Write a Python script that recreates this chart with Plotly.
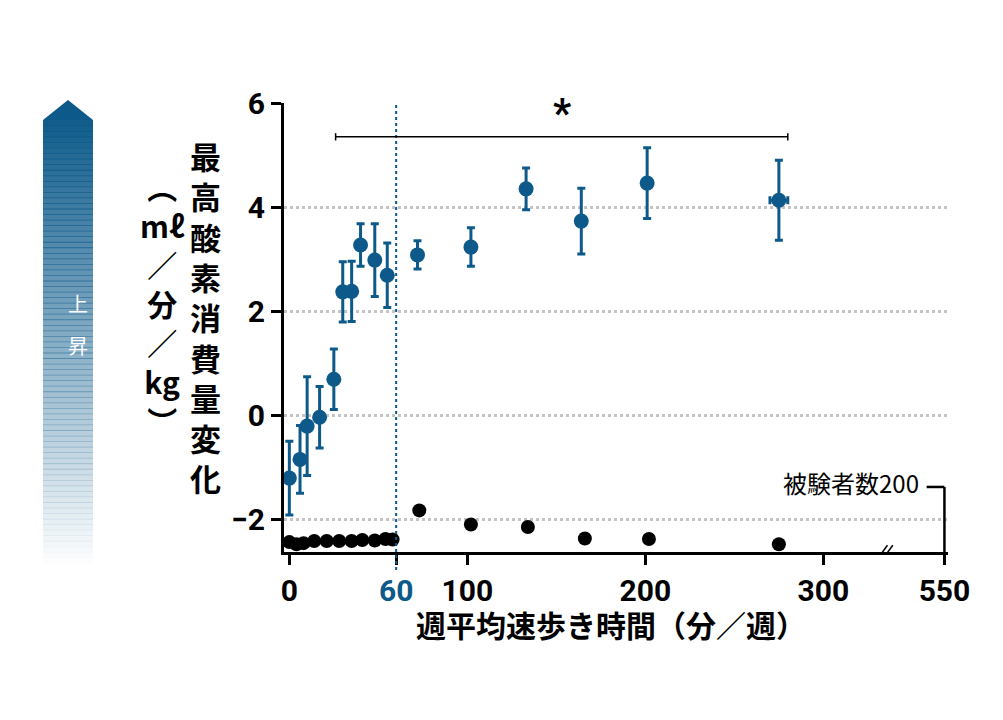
import plotly.graph_objects as go

# data
minutes = [0, 6, 10, 17, 25, 30, 35, 40, 48, 55, 72, 102, 133, 164, 201, 275]
vo2_change = [-1.21, -0.85, -0.21, -0.04, 0.69, 2.37, 2.38, 3.27, 2.98, 2.69, 3.08, 3.23, 4.35, 3.73, 4.46, 4.13]
vo2_err = [0.71, 0.65, 0.95, 0.59, 0.58, 0.58, 0.58, 0.41, 0.7, 0.62, 0.27, 0.37, 0.4, 0.63, 0.68, 0.77]
minutes_err = [0] * 15 + [5]
n_minutes = [0, 4, 8, 14, 21, 28, 35, 41, 48, 54, 58, 73, 102, 134, 166, 202, 275]
n_level = [-2.44, -2.48, -2.46, -2.42, -2.42, -2.42, -2.42, -2.4, -2.41, -2.38, -2.39, -1.83, -2.1, -2.15, -2.37, -2.38, -2.48]
x_ticks = [0, 60, 100, 200, 300, 368]
x_labels = ["0", "<span style='color:#0d5a8a'>60</span>", "100", "200", "300", "550"]
y_ticks = [-2, 0, 2, 4, 6]

BLUE = "#0d5a8a"
FONT = "Roboto"
JP = "Noto Sans CJK JP"
L, T, W, H = 276, 95, 664, 449


def px(x):
    return (x - L) / W


def py(y):
    return (T + H - y) / H


fig = go.Figure()

fig.add_trace(go.Scatter(
    x=n_minutes, y=n_level, mode="markers",
    marker=dict(size=14, color="black"), cliponaxis=False, showlegend=False))

fig.add_trace(go.Scatter(
    x=minutes, y=vo2_change, mode="markers",
    marker=dict(size=15, color=BLUE),
    error_y=dict(type="data", array=vo2_err, color=BLUE, thickness=3, width=4),
    error_x=dict(type="data", array=minutes_err, color=BLUE, thickness=3, width=4),
    showlegend=False))

shapes = []
shapes.append(dict(type="line", xref="x", yref="paper", x0=60, x1=60, y0=-0.04, y1=1,
                   line=dict(color=BLUE, width=2, dash="dot")))
shapes.append(dict(type="line", x0=26, x1=280, y0=5.35, y1=5.35, line=dict(color="black", width=1.5)))
for xx in (26, 280):
    shapes.append(dict(type="line", x0=xx, x1=xx, y0=5.28, y1=5.42, line=dict(color="black", width=1.5)))
shapes.append(dict(type="line", x0=358, x1=368, y0=-1.38, y1=-1.38, line=dict(color="black", width=2.5)))
shapes.append(dict(type="line", x0=368, x1=368, y0=-1.38, y1=-2.63, line=dict(color="black", width=2.5)))
for dx in (0, 3):
    shapes.append(dict(type="line", x0=330 + dx, x1=336 + dx, y0=-2.78, y1=-2.5,
                       line=dict(color="black", width=1.5)))

# left arrow with fade
top, bot, n = 112, 555, 80
for i in range(n):
    y0 = top + (bot - top) * i / n
    y1 = top + (bot - top) * (i + 1) / n + 0.8
    shapes.append(dict(type="rect", xref="paper", yref="paper",
                       x0=px(35), x1=px(85), y0=py(y1), y1=py(y0),
                       fillcolor=BLUE, opacity=(1 - i / n) * 0.98, line=dict(width=0), layer="below"))
shapes.append(dict(type="path", xref="paper", yref="paper",
                   path=f"M {px(35)} {py(112)} L {px(60)} {py(92)} L {px(85)} {py(112)} Z",
                   fillcolor=BLUE, line=dict(width=0)))

ann = []
ann.append(dict(x=153, y=5.3, text="<b>*</b>", showarrow=False, yanchor="bottom",
                font=dict(size=40, color="black")))
ann.append(dict(x=355, y=-1.3, text="被験者数200", showarrow=False, xanchor="right",
                font=dict(size=24, color="black", family=JP)))
for ch, yy in (("上", 295), ("昇", 337)):
    ann.append(dict(xref="paper", yref="paper", x=px(58), y=py(yy), text=ch, showarrow=False,
                    font=dict(size=20, color="white", family=JP)))
ann.append(dict(xref="paper", yref="paper", x=px(180), y=py(308),
                text="<b>" + "<br>".join("最高酸素消費量変化") + "</b>", showarrow=False,
                font=dict(size=31, color="black", family=JP)))
ann.append(dict(xref="paper", yref="paper", x=px(130), y=py(295),
                text="<b>" + "<br>".join(["︵", "mℓ", "／", "分", "／", "kg", "︶"]) + "</b>",
                showarrow=False, font=dict(size=30, color="black", family=JP)))
ann.append(dict(xref="paper", yref="paper", x=px(603), y=py(640),
                text="<b>週平均速歩き時間（分／週）</b>", showarrow=False,
                font=dict(size=30, color="black", family=JP)))

fig.update_layout(
    width=1003, height=720,
    margin=dict(l=L, r=1003 - L - W, t=T, b=720 - T - H, autoexpand=False),
    plot_bgcolor="white", paper_bgcolor="white",
    font=dict(family=FONT, color="black"),
    shapes=shapes, annotations=ann,
    xaxis=dict(range=[-3, 370], tickvals=x_ticks, ticktext=x_labels, showgrid=False,
               zeroline=False, showline=True, linecolor="black", linewidth=3, automargin=False,
               ticks="outside", ticklen=10, tickwidth=3, tickcolor="black",
               tickfont=dict(size=30, family=FONT, weight="bold")),
    yaxis=dict(range=[-2.63, 6], tickvals=y_ticks, showgrid=True, gridcolor="#c4c4c4",
               gridwidth=3, griddash="dot", zeroline=False, showline=True, linecolor="black",
               linewidth=3, ticks="outside", ticklen=10, tickwidth=3, tickcolor="black", automargin=False,
               tickfont=dict(size=30, family=FONT, weight="bold")),
)

fig.write_html("out.html")
